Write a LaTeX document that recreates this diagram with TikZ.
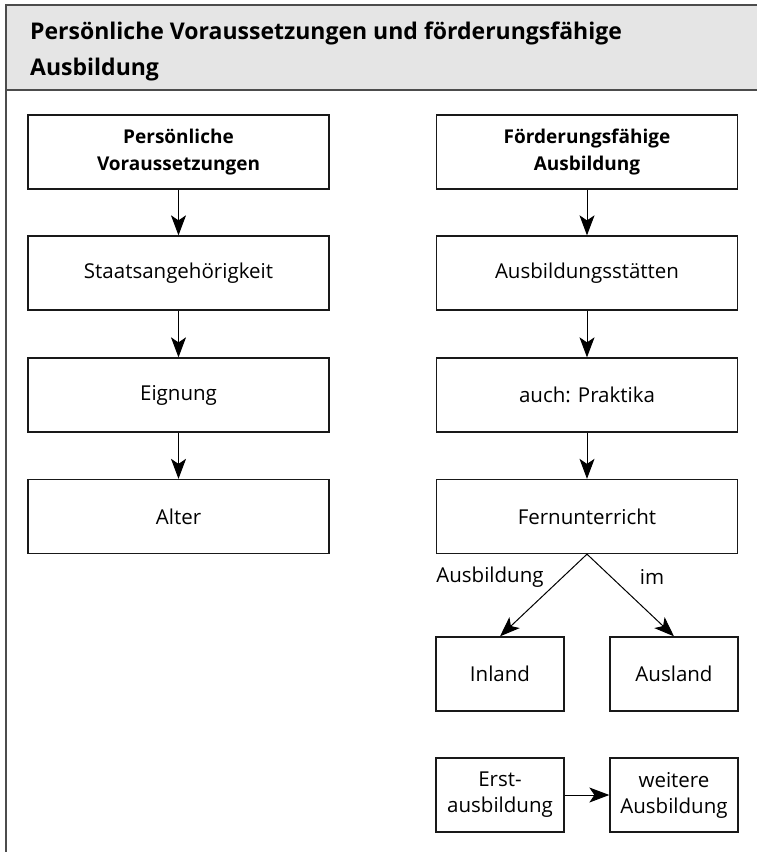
\documentclass[tikz,border=0pt]{standalone}
\usepackage{fontspec}
\setmainfont{Open Sans}
\newfontfamily\titlefont{Open Sans}
\usetikzlibrary{arrows.meta}
\begin{document}
\begin{tikzpicture}[x=1pt,y=-1pt,
  box/.style={draw=black!90, line width=1.3pt, minimum width=301pt, minimum height=74pt,
    align=center, font=\fontsize{20.5}{26}\selectfont, inner sep=0pt},
  headbox/.style={box, font=\fontsize{19}{27}\selectfont\bfseries},
  smallbox/.style={box, minimum width=128pt},
  arr/.style={-{Stealth[length=20pt,width=15pt,inset=5pt]}, line width=1pt},
  lbl/.style={font=\fontsize{20.5}{24}\selectfont, inner sep=0pt}]
\useasboundingbox (0,0) rectangle (757,852);
\begin{scope}
  \clip (0,0) rectangle (757,852);
  \fill[black!10] (6,5) rectangle (770,90);
  \draw[line width=2pt, black!70] (6,870) -- (6,5) -- (770,5);
  \draw[line width=1.5pt, black!70] (6,90) -- (770,90);
\end{scope}
\node[anchor=north west, align=left, inner sep=0pt,
  font=\titlefont\fontsize{23}{36}\selectfont\bfseries] (title) at (30,22)
  {Persönliche Voraussetzungen und förderungsfähige\\Ausbildung};
% left column
\node[headbox] (pv) at (178.5,152) {Persönliche\\Voraussetzungen};
\node[box] (staat) at (178.5,273) {Staatsangehörigkeit};
\node[box] (eign) at (178.5,395) {Eignung};
\node[box] (alter) at (178.5,516.5) {Alter};
% right column
\node[headbox] (fa) at (587,152) {Förderungsfähige\\Ausbildung};
\node[box] (stae) at (587,273) {Ausbildungsstätten};
\node[box] (prak) at (587,395) {auch: Praktika};
\node[box] (fern) at (587,516.5) {Fernunterricht};
\node[smallbox] (inl) at (500,674) {Inland};
\node[smallbox] (ausl) at (674,674) {Ausland};
\node[smallbox] (erst) at (500,795) {Erst-\\ausbildung};
\node[smallbox] (weit) at (674,795) {weitere\\Ausbildung};
% connectors
\draw[arr] (pv) -- (staat);
\draw[arr] (staat) -- (eign);
\draw[arr] (eign) -- (alter);
\draw[arr] (fa) -- (stae);
\draw[arr] (stae) -- (prak);
\draw[arr] (prak) -- (fern);
\draw[arr] (fern.south) -- (inl.north);
\draw[arr] (fern.south) -- (ausl.north);
\draw[arr] (erst) -- (weit);
\node[lbl] (lba) at (490,577) {Ausbildung};
\node[lbl] (lbb) at (652,577) {im};
\end{tikzpicture}
\end{document}
